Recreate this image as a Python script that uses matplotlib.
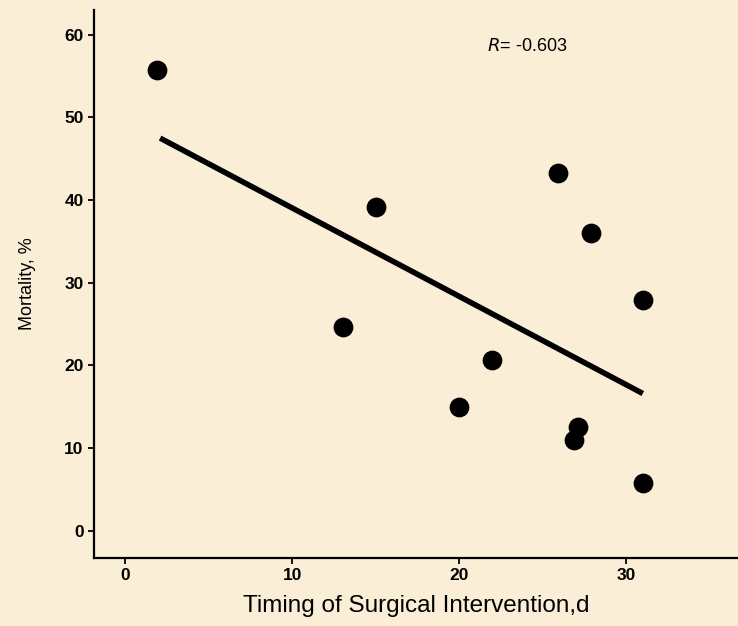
import numpy as np
import matplotlib.pyplot as plt

plt.rcParams['font.family'] = ['Liberation Sans Narrow', 'Liberation Sans', 'DejaVu Sans']

# timing (days) vs mortality (%)
timing = [1.9, 15.0, 13.05, 20.0, 22.0, 25.9, 27.9, 31.0, 27.1, 26.9, 31.0]
mortality = [55.7, 39.2, 24.7, 15.0, 20.7, 43.3, 36.0, 27.9, 12.5, 11.0, 5.8]

fit_x = [2.1, 31.0]
fit_y = [47.5, 16.6]

xticks = [0, 10, 20, 30]
yticks = [0, 10, 20, 30, 40, 50, 60]

bg = '#FAEED6'
fig = plt.figure(figsize=(7.38, 6.26), dpi=100, facecolor=bg)
ax = fig.add_axes([94 / 738, 68 / 626, 1 - 94 / 738, 548 / 626])
ax.set_facecolor(bg)

ax.scatter(timing, mortality, s=175, color='black', zorder=3)
ax.plot(fit_x, fit_y, color='black', lw=4, solid_capstyle='butt')

ax.set_xlim(-1.86, 36.7)
ax.set_ylim(-3.3, 63)
ax.set_xticks(xticks)
ax.set_yticks(yticks)
for s in ['top', 'right']:
    ax.spines[s].set_visible(False)
for s in ['left', 'bottom']:
    ax.spines[s].set_linewidth(1.6)
ax.tick_params(direction='out', length=4, width=1.3, labelsize=12.5)
for lab in ax.get_xticklabels() + ax.get_yticklabels():
    lab.set_fontweight('bold')

ax.set_ylabel('Mortality, %', fontsize=13, labelpad=20)
ax.set_xlabel('Timing of Surgical Intervention,d', fontsize=17.5,
              family=['Liberation Sans', 'DejaVu Sans'], labelpad=8)
ax.text(0.61, 0.925, r'$\it{R}$= -0.603', transform=ax.transAxes, fontsize=13,
        family=['Liberation Sans', 'DejaVu Sans'])

plt.savefig('out.png', dpi=100, facecolor=bg)
